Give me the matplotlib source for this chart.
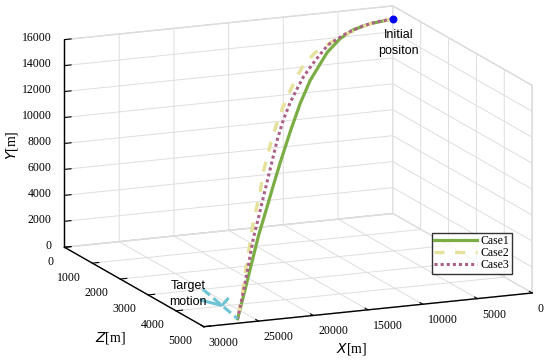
import numpy as np
import matplotlib
matplotlib.use("Agg")
import matplotlib.pyplot as plt

# ---- data (X, Y, Z in metres; Y is height) ----
case1_X = [0, 2430, 4500, 6210, 8050, 10690, 12360, 14150, 16040, 17670, 18750, 20780, 22220, 24590, 26300]
case1_Z = [0, 134, 337, 546, 806, 1234, 1534, 1878, 2268, 2622, 2866, 3342, 3698, 4304, 4760]
case1_Y = [15000, 15000, 14950, 14680, 14100, 12700, 11450, 9850, 8150, 6700, 5750, 4200, 2950, 1100, 0]

case2_X = [0, 2430, 5260, 6890, 9890, 11840, 12700, 14700, 16650, 18090, 19620, 20570, 21990, 23010, 24060, 24880, 26300]
case2_Z = [0, 134, 426, 638, 1098, 1437, 1598, 1990, 2397, 2716, 3067, 3292, 3638, 3896, 4166, 4380, 4760]
case2_Y = [15000, 15000, 14830, 14770, 14600, 14200, 13800, 12730, 11490, 10240, 8740, 7190, 5820, 4310, 2820, 1400, 0]

case3_X = [0, 1630, 3260, 5260, 7890, 9100, 10360, 11840, 12890, 14150, 15460, 16650, 17670, 18750, 19860, 20780, 21990, 22750, 23280, 24590, 26300]
case3_Z = [0, 73, 208, 426, 782, 969, 1177, 1437, 1633, 1878, 2146, 2397, 2622, 2866, 3123, 3342, 3638, 3829, 3963, 4304, 4760]
case3_Y = [15000, 15000, 15000, 14900, 14650, 14250, 13820, 13300, 12750, 12100, 11200, 10100, 8900, 7700, 6540, 5590, 4530, 3600, 2900, 1500, 0]

target_X = [25000, 26300]
target_Z = [3000, 4760]
target_Y = [0, 0]

init_X, init_Y, init_Z = 0, 15000, 0

x_ticks = [0, 5000, 10000, 15000, 20000, 25000, 30000]
z_ticks = [0, 1000, 2000, 3000, 4000, 5000]
y_ticks = list(range(0, 16001, 2000))

plt.rcParams['grid.color'] = '#dedede'
plt.rcParams['grid.linewidth'] = 0.7
serif = 'Liberation Serif'
sans = 'Liberation Sans'

fig = plt.figure(figsize=(5.5, 3.61), dpi=100)
ax = fig.add_axes([0.023, -0.005, 1.02, 1.06], projection='3d', proj_type='ortho')
ax.set_box_aspect((1, 1, 0.6), zoom=1.39)
ax.view_init(elev=14, azim=67)

ax.set_xlim(0, 30000)
ax.set_ylim(0, 5000)
ax.set_zlim(0, 16000)
ax.set_xticks(x_ticks)
ax.set_yticks(z_ticks)
ax.set_zticks(y_ticks)
ax.set_xticklabels([str(v) for v in x_ticks], fontfamily=serif, fontsize=8.5, ha='left', va='top')
ax.set_yticklabels([str(v) for v in z_ticks], fontfamily=serif, fontsize=8.5, ha='right', va='top')
ax.set_zticklabels([str(v) for v in y_ticks], fontfamily=serif, fontsize=8.5, ha='right', va='center')
ax.tick_params(axis='x', pad=-3)
ax.tick_params(axis='y', pad=-3)
ax.tick_params(axis='z', pad=-4)

for a in (ax.xaxis, ax.yaxis, ax.zaxis):
    a.set_pane_color((1, 1, 1, 1))
    a.pane.set_edgecolor('#d6d6d6')
    a.line.set_color('black')
    a.line.set_linewidth(1.0)
    a._axinfo['tick']['inward_factor'] = 0.0
    a._axinfo['tick']['outward_factor'] = 0.25
    a._axinfo['tick']['color'] = 'black'

ax.plot(case1_X, case1_Z, case1_Y, color='#7BAD45', lw=2.3, label='Case1')
ax.plot(case2_X, case2_Z, case2_Y, color='#E6E19A', lw=2.4, dashes=(3, 3.2), label='Case2')
ax.plot(case3_X, case3_Z, case3_Y, color='#AC6088', lw=2.2, linestyle=(0, (1, 1)), label='Case3')

# target motion: dashed line with an arrow head part way along
ax.plot(target_X, target_Z, target_Y, color='#6CC4D4', lw=2.2, dashes=(3, 1.5))
nx0, nz0 = target_X[0] / 30000, target_Z[0] / 5000
nx1, nz1 = target_X[1] / 30000, target_Z[1] / 5000
d = np.array([nx1 - nx0, nz1 - nz0])
d = d / np.hypot(*d)
hx, hz = nx0 + 0.55 * (nx1 - nx0), nz0 + 0.55 * (nz1 - nz0)
for ang in (np.deg2rad(28), -np.deg2rad(28)):
    r = np.array([[np.cos(ang), -np.sin(ang)], [np.sin(ang), np.cos(ang)]]) @ (-d) * 0.09
    ax.plot([hx * 30000, (hx + r[0]) * 30000], [hz * 5000, (hz + r[1]) * 5000], [0, 0],
            color='#6CC4D4', lw=2.2, solid_capstyle='butt')

ax.scatter([init_X], [init_Z], [init_Y], color='#0000ff', s=22, depthshade=False)

ax.text(init_X - 500, init_Z, init_Y - 800, 'Initial\npositon', fontfamily=sans, fontsize=9,
        ha='center', va='top', linespacing=1.5)
ax.text(26830, 3185, 0, 'Target\nmotion', fontfamily=sans, fontsize=9,
        ha='center', va='center', linespacing=1.45)

fig.text(352 / 550, 1 - 349 / 361, '$\\mathit{X}$[m]', fontfamily=serif, fontsize=10, ha='center', va='center')
fig.text(110 / 550, 1 - 338 / 361, '$\\mathit{Z}$[m]', fontfamily=serif, fontsize=10, ha='center', va='center')
fig.text(12 / 550, 1 - 145 / 361, '$\\mathit{Y}$[m]', fontfamily=serif, fontsize=10, ha='center', va='center', rotation=90)

leg = ax.legend(loc='upper left', bbox_to_anchor=(432 / 550, 1 - 233 / 361), bbox_transform=fig.transFigure,
                prop={'family': serif, 'size': 8.5}, frameon=True, fancybox=False,
                edgecolor='black', handlelength=3.6, borderpad=0.2, labelspacing=0.0,
                handletextpad=0.3, borderaxespad=0)
leg.get_frame().set_linewidth(1.0)

fig.savefig('out.png', dpi=100)
